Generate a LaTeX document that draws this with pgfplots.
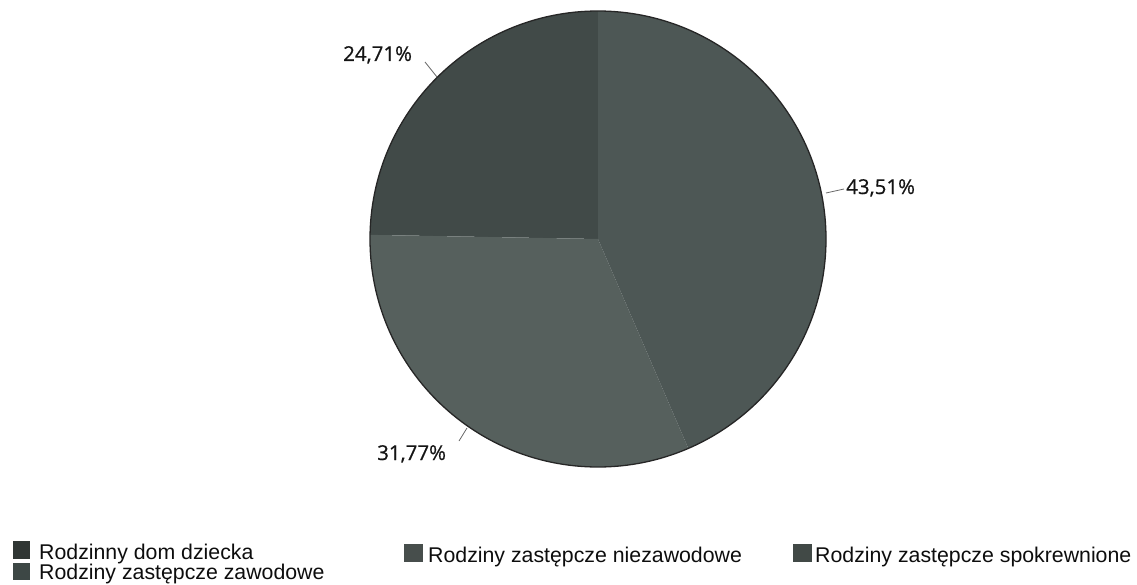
\documentclass[border=0pt]{standalone}
\usepackage{pgfplots}
\usepackage{pgfplotstable}
\pgfplotsset{compat=1.18}
\usepackage{fontspec}
\setmainfont{Liberation Sans}
\newfontfamily\osans[FakeBold=0.6]{Open Sans}
\definecolor{sliceA}{HTML}{414A48}
\definecolor{sliceB}{HTML}{56605D}
\definecolor{sliceC}{HTML}{4D5755}
\definecolor{legA}{HTML}{303634}
\definecolor{legB}{HTML}{3D4745}
\definecolor{legC}{HTML}{474E4C}
\definecolor{legD}{HTML}{414946}
\pgfplotstableread{
label value
A 24.71
B 31.77
C 43.51
}\piedata
\pgfplotstablegetelem{0}{value}\of\piedata \let\va\pgfplotsretval
\pgfplotstablegetelem{1}{value}\of\piedata \let\vb\pgfplotsretval
\pgfplotstablegetelem{2}{value}\of\piedata \let\vc\pgfplotsretval
\pgfmathsetmacro\aA{90}
\pgfmathsetmacro\aB{90+3.6*\va}
\pgfmathsetmacro\aC{\aB+3.6*\vb}
\pgfmathsetmacro\aD{\aC+3.6*\vc}
\begin{document}
\begin{tikzpicture}
\begin{axis}[
  scale only axis, width=1137bp, height=585bp,
  xmin=0, xmax=1137, ymin=0, ymax=585, y dir=reverse,
  hide axis, clip=false]
\addplot[draw=none] coordinates {(0,0) (1137,585)};
% pie slices
\fill[sliceA] (axis cs:598,239) -- ++(\aA:228bp) arc[start angle=\aA, end angle=\aB, radius=228bp] -- cycle;
\fill[sliceB] (axis cs:598,239) -- ++(\aB:228bp) arc[start angle=\aB, end angle=\aC, radius=228bp] -- cycle;
\fill[sliceC] (axis cs:598,239) -- ++(\aC:228bp) arc[start angle=\aC, end angle=\aD, radius=228bp] -- cycle;
\draw[color=black!85, line width=1.3bp] (axis cs:598,239) circle[radius=228bp];
% leader lines
\draw[black!60, line width=0.8bp] (axis cs:425,62) -- (axis cs:437,77);
\draw[black!60, line width=0.8bp] (axis cs:826,193) -- (axis cs:844,189);
\draw[black!60, line width=0.8bp] (axis cs:459,441) -- (axis cs:467,428);
% labels
\node[anchor=base west, inner sep=0pt, text=black!92] at (axis cs:343,61) {\osans\fontsize{20.5bp}{24bp}\selectfont 24,71\%};
\node[anchor=base west, inner sep=0pt, text=black!92] at (axis cs:846,194) {\osans\fontsize{20.5bp}{24bp}\selectfont 43,51\%};
\node[anchor=base west, inner sep=0pt, text=black!92] at (axis cs:377,460) {\osans\fontsize{20.5bp}{24bp}\selectfont 31,77\%};
% legend
\fill[legA] (axis cs:12.5,541) rectangle (axis cs:30,559);
\fill[legB] (axis cs:12.5,563) rectangle (axis cs:30,580);
\fill[legC] (axis cs:404,544) rectangle (axis cs:423,562);
\fill[legD] (axis cs:793,544) rectangle (axis cs:812,562);
\node[anchor=base west, inner sep=0pt, text=black!95] at (axis cs:39,559) {\fontsize{21.3bp}{24bp}\selectfont Rodzinny dom dziecka};
\node[anchor=base west, inner sep=0pt, text=black!95] at (axis cs:39,579) {\fontsize{21.3bp}{24bp}\selectfont Rodziny zastępcze zawodowe};
\node[anchor=base west, inner sep=0pt, text=black!95] at (axis cs:428,562) {\fontsize{21.3bp}{24bp}\selectfont Rodziny zastępcze niezawodowe};
\node[anchor=base west, inner sep=0pt, text=black!95] at (axis cs:815,562) {\fontsize{21.3bp}{24bp}\selectfont Rodziny zastępcze spokrewnione};
\end{axis}
\end{tikzpicture}
\end{document}
